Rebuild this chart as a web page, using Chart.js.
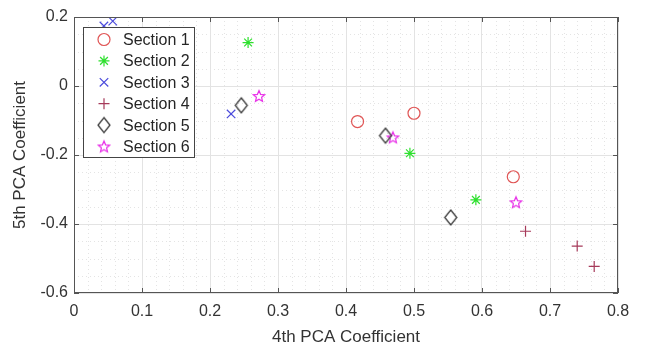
<!DOCTYPE html>
<html>
<head>
<meta charset="utf-8">
<script src="https://cdn.jsdelivr.net/npm/chart.js@4.4.0/dist/chart.umd.min.js"></script>
<style>
  body { margin: 0; background: #fff; }
  #pca { display: block; }
</style>
</head>
<body>
<canvas id="pca" width="646" height="352"></canvas>
<script>
// PCA coefficients per section (4th on x, 5th on y)
const sectionNames = ['Section 1', 'Section 2', 'Section 3', 'Section 4', 'Section 5', 'Section 6'];
const s1x = [0.417, 0.500, 0.646];
const s1y = [-0.103, -0.079, -0.263];
const s2x = [0.256, 0.494, 0.591];
const s2y = [0.126, -0.195, -0.330];
const s3x = [0.044, 0.057, 0.231];
const s3y = [0.174, 0.188, -0.081];
const s4x = [0.664, 0.740, 0.765];
const s4y = [-0.421, -0.464, -0.523];
const s5x = [0.246, 0.458, 0.554];
const s5y = [-0.056, -0.144, -0.381];
const s6x = [0.272, 0.469, 0.650];
const s6y = [-0.029, -0.149, -0.337];
const xTicks = [0, 0.1, 0.2, 0.3, 0.4, 0.5, 0.6, 0.7, 0.8];
const yTicks = [-0.6, -0.4, -0.2, 0, 0.2];

const colors = ['#e05555', '#2ee02e', '#4b4bdc', '#a63a5a', '#3c3c3c', '#e830e8'];

// markers chart.js doesn't have built in
function pentagram(color, r) {
  const size = Math.ceil(r * 2 + 4);
  const c = document.createElement('canvas');
  c.width = c.height = size;
  const g = c.getContext('2d');
  g.strokeStyle = color;
  g.lineWidth = 1.2;
  g.beginPath();
  for (let i = 0; i < 10; i++) {
    const rad = i % 2 ? r * 0.45 : r;
    const a = -Math.PI / 2 + i * Math.PI / 5;
    const px = size / 2 + rad * Math.cos(a), py = size / 2 + 0.5 + rad * Math.sin(a);
    if (i) g.lineTo(px, py); else g.moveTo(px, py);
  }
  g.closePath();
  g.stroke();
  return c;
}

function diamond(color, w, h) {
  const c = document.createElement('canvas');
  c.width = Math.ceil(w + 4);
  c.height = Math.ceil(h + 4);
  const g = c.getContext('2d');
  const cx = c.width / 2, cy = c.height / 2;
  g.strokeStyle = color;
  g.lineWidth = 1.3;
  g.beginPath();
  g.moveTo(cx, cy - h / 2);
  g.lineTo(cx + w / 2, cy);
  g.lineTo(cx, cy + h / 2);
  g.lineTo(cx - w / 2, cy);
  g.closePath();
  g.stroke();
  return c;
}

const styles = ['circle', 'star', 'crossRot', 'cross', diamond(colors[4], 12, 15), pentagram(colors[5], 6)];
const radii = [6, 5.5, 6, 5.5, 7, 6];

const xs = [s1x, s2x, s3x, s4x, s5x, s6x];
const ys = [s1y, s2y, s3y, s4y, s5y, s6y];

const datasets = sectionNames.map((name, i) => ({
  label: name,
  data: xs[i].map((v, k) => ({ x: v, y: ys[i][k] })),
  pointStyle: styles[i],
  pointRadius: radii[i],
  pointBorderWidth: 1.2,
  borderColor: colors[i],
  backgroundColor: 'rgba(0,0,0,0)'
}));

const frame = {
  id: 'frame',
  beforeDatasetsDraw(chart) {
    const { ctx, chartArea: a, scales: { x, y } } = chart;
    ctx.save();
    ctx.strokeStyle = '#e4e4e4';
    ctx.lineWidth = 1;
    ctx.setLineDash([1, 3]);
    ctx.beginPath();
    for (let i = 1; i < 40; i++) {
      if (i % 5 === 0) continue;
      const px = Math.round(x.getPixelForValue(i * 0.02)) + 0.5;
      ctx.moveTo(px, a.top);
      ctx.lineTo(px, a.bottom);
    }
    for (let i = 1; i < 16; i++) {
      if (i % 4 === 0) continue;
      const py = Math.round(y.getPixelForValue(-0.6 + i * 0.05)) + 0.5;
      ctx.moveTo(a.left, py);
      ctx.lineTo(a.right, py);
    }
    ctx.stroke();
    ctx.restore();
  },
  afterDatasetsDraw(chart) {
    const { ctx, chartArea: a, scales: { x, y } } = chart;
    ctx.save();
    // axes box with inward ticks
    ctx.strokeStyle = '#555';
    ctx.lineWidth = 1;
    ctx.strokeRect(a.left + 0.5, a.top + 0.5, a.right - a.left - 1, a.bottom - a.top - 1);
    ctx.beginPath();
    xTicks.forEach(v => {
      const px = Math.round(x.getPixelForValue(v)) + 0.5;
      ctx.moveTo(px, a.bottom); ctx.lineTo(px, a.bottom - 5);
      ctx.moveTo(px, a.top); ctx.lineTo(px, a.top + 5);
    });
    yTicks.forEach(v => {
      const py = Math.round(y.getPixelForValue(v)) + 0.5;
      ctx.moveTo(a.left, py); ctx.lineTo(a.left + 5, py);
      ctx.moveTo(a.right, py); ctx.lineTo(a.right - 5, py);
    });
    ctx.stroke();

    // legend box inside the axes
    const lx = 83, ly = 27, lw = 111, lh = 130;
    ctx.fillStyle = '#fff';
    ctx.fillRect(lx, ly, lw, lh);
    ctx.strokeStyle = '#444';
    ctx.strokeRect(lx + 0.5, ly + 0.5, lw, lh);
    ctx.font = '16px "Liberation Sans", Arial, sans-serif';
    ctx.textBaseline = 'middle';
    sectionNames.forEach((name, i) => {
      const ry = 39.5 + i * 21.4;
      ctx.strokeStyle = colors[i];
      ctx.fillStyle = 'rgba(0,0,0,0)';
      ctx.lineWidth = 1.2;
      Chart.helpers.drawPoint(ctx, { pointStyle: styles[i], radius: radii[i], rotation: 0, borderWidth: 1.2 }, 104, ry);
      ctx.fillStyle = '#262626';
      ctx.fillText(name, 123, ry + 1);
    });
    ctx.restore();
  }
};

const tickFont = { family: '"Liberation Sans", Arial, sans-serif', size: 16 };
const titleFont = { family: '"Liberation Sans", Arial, sans-serif', size: 17 };

new Chart(document.getElementById('pca'), {
  type: 'scatter',
  data: { datasets },
  options: {
    responsive: false,
    animation: false,
    layout: { padding: { top: 17, right: 28, left: 0, bottom: 0 } },
    plugins: { legend: { display: false }, tooltip: { enabled: false } },
    scales: {
      x: {
        type: 'linear',
        min: 0,
        max: 0.8,
        afterBuildTicks: s => { s.ticks = xTicks.map(v => ({ value: v })); },
        afterFit: s => { s.height = 59; },
        ticks: { font: tickFont, color: '#333', padding: 9, maxRotation: 0 },
        grid: { color: '#e3e3e3', drawTicks: false },
        border: { display: false },
        title: { display: true, text: '4th PCA Coefficient', font: titleFont, color: '#333', padding: { bottom: 4 } }
      },
      y: {
        type: 'linear',
        min: -0.6,
        max: 0.2,
        afterBuildTicks: s => { s.ticks = yTicks.map(v => ({ value: v })); },
        afterFit: s => { s.width = 74; },
        ticks: { font: tickFont, color: '#333', padding: 6 },
        grid: { color: '#e3e3e3', drawTicks: false },
        border: { display: false },
        title: { display: true, text: '5th PCA Coefficient', font: titleFont, color: '#333', padding: { top: 10 } }
      }
    }
  },
  plugins: [frame]
});
</script>
</body>
</html>
